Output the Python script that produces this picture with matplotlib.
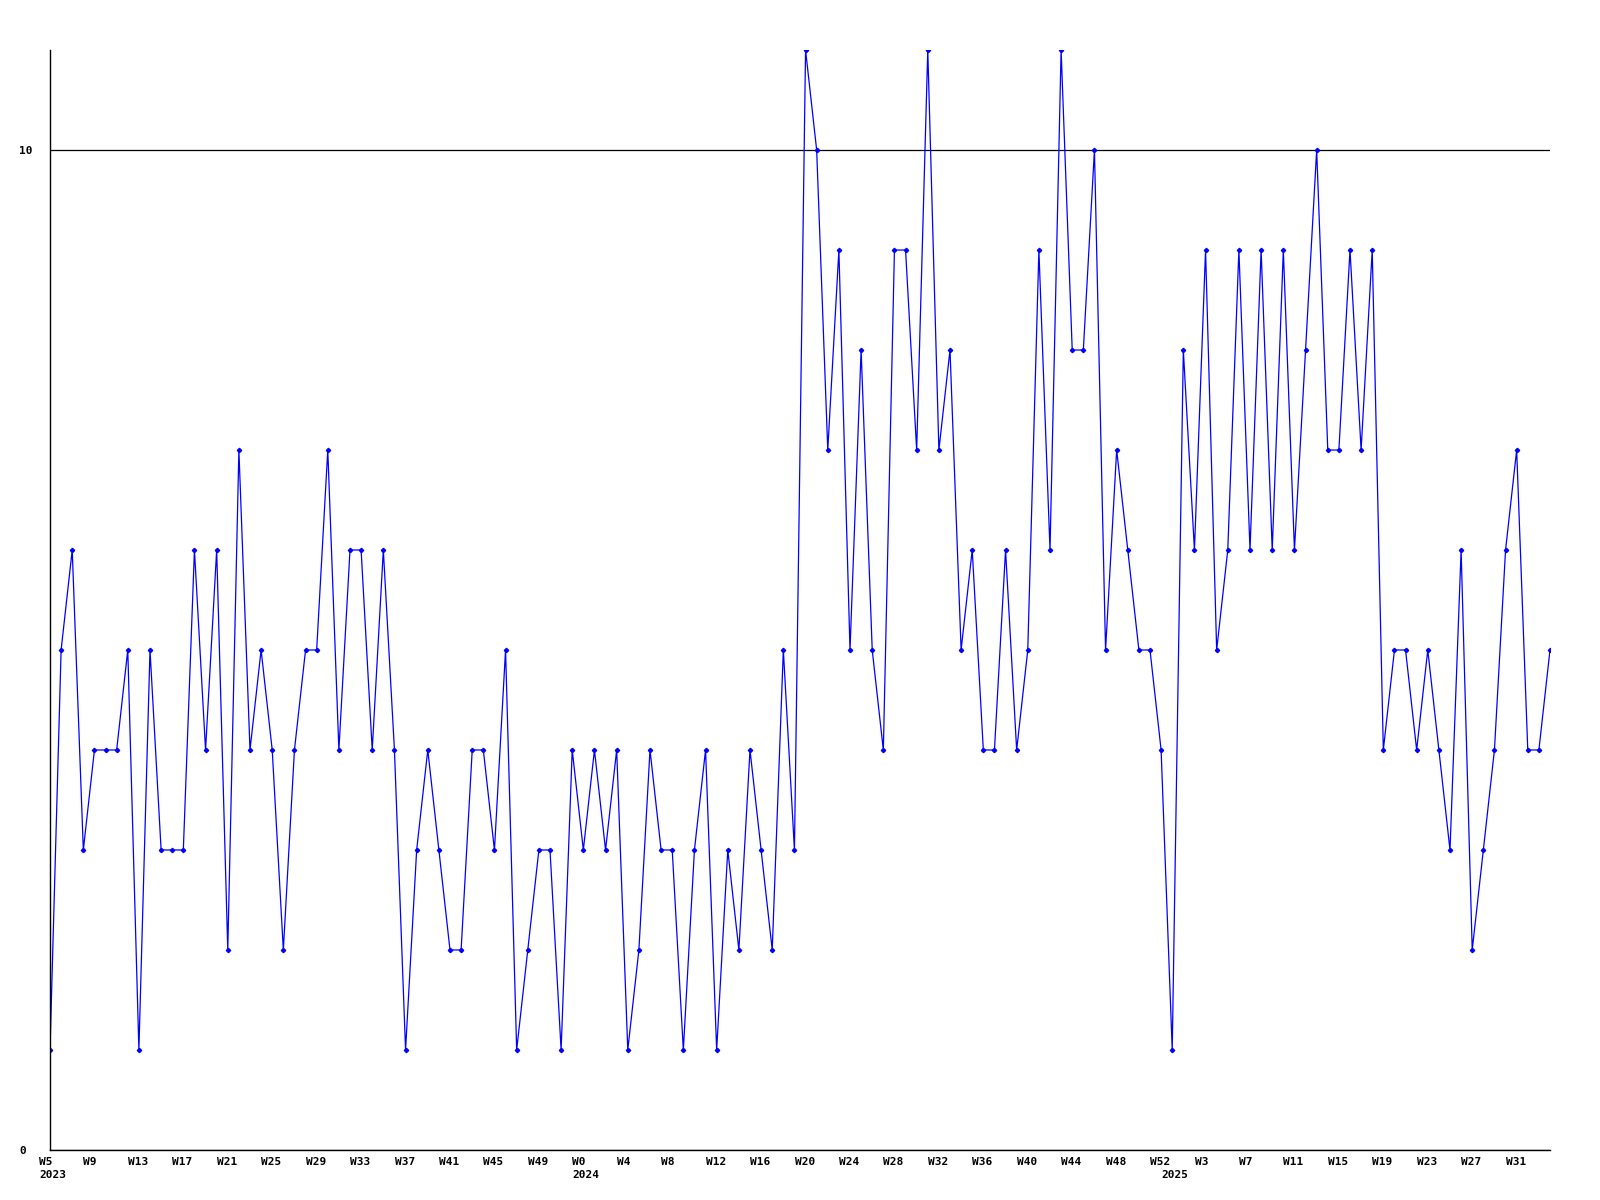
import matplotlib
matplotlib.use("Agg")
import matplotlib.pyplot as plt
from matplotlib.transforms import ScaledTranslation, blended_transform_factory

# weekly values, starting at W5 2023
values = [1, 5, 6, 3, 4, 4, 4, 5, 1, 5, 3, 3, 3, 6, 4, 6, 2, 7, 4, 5,
          4, 2, 4, 5, 5, 7, 4, 6, 6, 4, 6, 4, 1, 3, 4, 3, 2, 2, 4, 4,
          3, 5, 1, 2, 3, 3, 1, 4, 3, 4, 3, 4, 1, 2, 4, 3, 3, 1, 3, 4,
          1, 3, 2, 4, 3, 2, 5, 3, 11, 10, 7, 9, 5, 8, 5, 4, 9, 9, 7, 11,
          7, 8, 5, 6, 4, 4, 6, 4, 5, 9, 6, 11, 8, 8, 10, 5, 7, 6, 5, 5,
          4, 1, 8, 6, 9, 5, 6, 9, 6, 9, 6, 9, 6, 8, 10, 7, 7, 9, 7, 9,
          4, 5, 5, 4, 5, 4, 3, 6, 2, 3, 4, 6, 7, 4, 4, 5]

week_labels = ["W5", "W9", "W13", "W17", "W21", "W25", "W29", "W33", "W37", "W41",
               "W45", "W49", "W0", "W4", "W8", "W12", "W16", "W20", "W24", "W28",
               "W32", "W36", "W40", "W44", "W48", "W52", "W3", "W7", "W11", "W15",
               "W19", "W23", "W27", "W31"]
week_ticks = list(range(0, 4 * len(week_labels), 4))

year_labels = ["2023", "2024", "2025"]
year_pos = [0, 48, 101]

FONT = dict(family="DejaVu Sans Mono", weight="bold", size=8)

fig = plt.figure(figsize=(16, 12), dpi=100)
ax = fig.add_axes([0.03125, 0.0417, 0.9375, 0.9166])

x = list(range(len(values)))
ax.plot(x, values, color="#0000ff", linewidth=0.9, marker="D", markersize=2.2,
        markerfacecolor="#0000ff", markeredgecolor="#0000ff")

ax.set_xlim(0, len(values) - 1)
ax.set_ylim(0, 11)

for s in ["top", "right"]:
    ax.spines[s].set_visible(False)
for s in ["left", "bottom"]:
    ax.spines[s].set_color("black")
    ax.spines[s].set_linewidth(1.0)

ax.set_yticks([0, 10])
ax.set_yticklabels(["0", "10"], **FONT)
ax.tick_params(axis="y", length=0, pad=22)
for lab in ax.get_yticklabels():
    lab.set_horizontalalignment("left")
ax.grid(axis="y", color="black", linewidth=0.9)
ax.set_axisbelow(True)

ax.set_xticks(week_ticks)
ax.set_xticklabels(week_labels, **FONT)
ax.tick_params(axis="x", length=0, pad=5)
off = ScaledTranslation(-11 / 100, 0, fig.dpi_scale_trans)
for lab in ax.get_xticklabels():
    lab.set_horizontalalignment("left")
    lab.set_transform(lab.get_transform() + off)

trans = blended_transform_factory(ax.transData, ax.transAxes)
for pos, yl in zip(year_pos, year_labels):
    ax.text(pos, 0, yl, transform=trans + ScaledTranslation(-11 / 100, -20 / 100, fig.dpi_scale_trans),
            ha="left", va="top", **FONT)

fig.savefig("out.png", dpi=100)
